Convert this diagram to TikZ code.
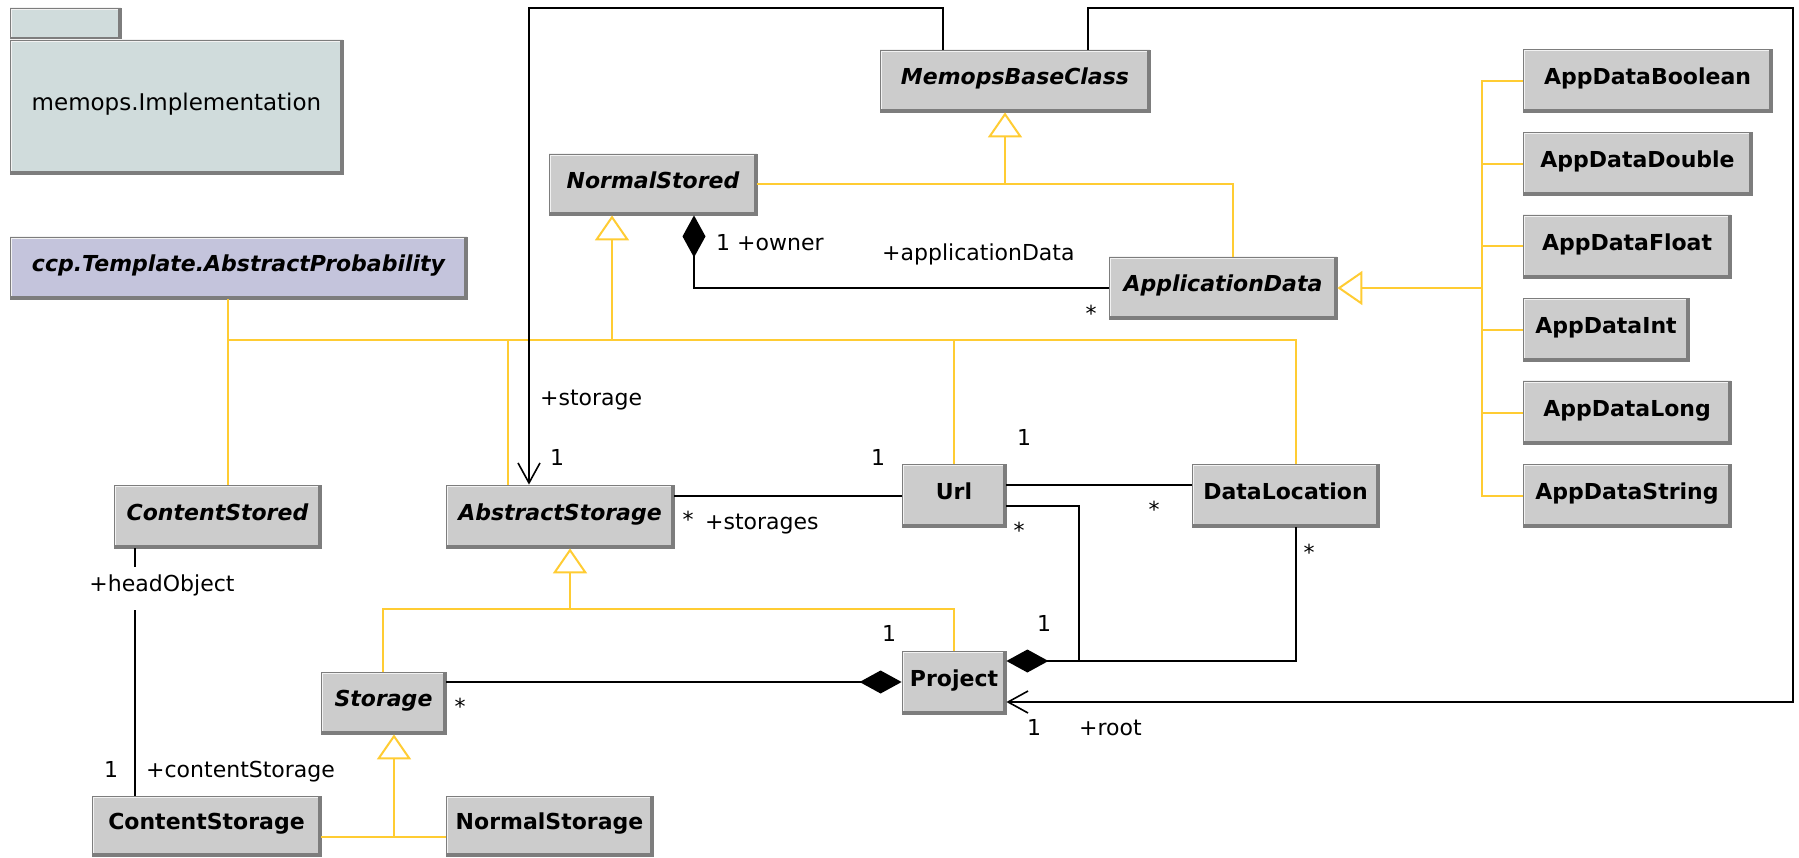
\documentclass[tikz,border=0pt]{standalone}
\usepackage{fontspec}
\setmainfont{DejaVu Sans}
\usetikzlibrary{arrows.meta}

\definecolor{boxgray}{RGB}{204,204,204}
\definecolor{bevlight}{RGB}{242,242,242}
\definecolor{bevdark}{RGB}{125,125,125}
\definecolor{pkgfill}{RGB}{208,220,220}
\definecolor{extfill}{RGB}{196,196,220}
\definecolor{genline}{RGB}{255,204,51}

\tikzset{
  bevel/.style={path picture={
      \draw[bevlight, line width=4pt]
        (path picture bounding box.south west) -- (path picture bounding box.north west)
        -- (path picture bounding box.north east);
      \draw[bevdark, line width=6pt]
        (path picture bounding box.north east) -- (path picture bounding box.south east)
        -- (path picture bounding box.south west);
  }},
  cls/.style={rectangle, bevel, fill=boxgray, draw=bevdark, line width=0.8pt,
    inner sep=0pt, text height=.73em, text depth=0pt,
    font=\fontsize{22}{26}\selectfont\bfseries},
  abscls/.style={cls, font=\fontsize{22}{26}\selectfont\bfseries\itshape},
  extcls/.style={abscls, fill=extfill},
  pkgbox/.style={cls, fill=pkgfill, font=\fontsize{23}{27}\selectfont},
  lbl/.style={inner sep=0pt, text height=.76em, text depth=0pt,
    font=\fontsize{22}{26}\selectfont},
  starlbl/.style={lbl, yshift=-5pt},
  assoc/.style={draw=black, line width=2pt},
  gen/.style={draw=genline, line width=2pt},
  gtri/.tip={Triangle[open, length=25pt, width=34pt, line width=2pt]},
  comp/.tip={Diamond[length=42pt, width=23pt]},
  nav/.tip={Straight Barb[length=20pt, width=22pt, line width=1.6pt]},
}

\begin{document}
\begin{tikzpicture}[x=1pt, y=-1pt]
\fill[white] (0,0) rectangle (1799,858);
\useasboundingbox (0,0) rectangle (1799,858);

% package
\node[pkgbox, minimum width=111, minimum height=32] (pkgtab) at (65.5,24) {};
\node[pkgbox, minimum width=333, minimum height=134] (pkg) at (176.5,107) {memops.Implementation};

% classes
\node[extcls, minimum width=457, minimum height=62] (ccp) at (238.5,268) {ccp.Template.AbstractProbability};
\node[abscls, minimum width=270, minimum height=62] (memops) at (1015,81) {MemopsBaseClass};
\node[abscls, minimum width=208, minimum height=61] (nstored) at (653,184.5) {NormalStored};
\node[abscls, minimum width=228, minimum height=62] (appd) at (1223,288) {ApplicationData};

\node[cls, minimum width=249, minimum height=63] (adbool) at (1647.5,81) {AppDataBoolean};
\node[cls, minimum width=229, minimum height=63] (addbl) at (1637.5,164) {AppDataDouble};
\node[cls, minimum width=208, minimum height=63] (adflt) at (1627,246.5) {AppDataFloat};
\node[cls, minimum width=166, minimum height=63] (adint) at (1606,330) {AppDataInt};
\node[cls, minimum width=208, minimum height=63] (adlng) at (1627,412.5) {AppDataLong};
\node[cls, minimum width=208, minimum height=63] (adstr) at (1627,495.5) {AppDataString};

\node[abscls, minimum width=207, minimum height=63] (cstored) at (217.5,516.5) {ContentStored};
\node[abscls, minimum width=228, minimum height=63] (astore) at (560,516.5) {AbstractStorage};
\node[cls, minimum width=104, minimum height=63] (url) at (954,495.5) {Url};
\node[cls, minimum width=187, minimum height=63] (dloc) at (1285.5,495.5) {DataLocation};
\node[abscls, minimum width=125, minimum height=62] (storage) at (383.5,703) {Storage};
\node[cls, minimum width=104, minimum height=63] (project) at (954,682.5) {Project};
\node[cls, minimum width=229, minimum height=60] (cstorage) at (206.5,826) {ContentStorage};
\node[cls, minimum width=207, minimum height=60] (nstorage) at (549.5,826) {NormalStorage};

% generalizations
\draw[gen, -{gtri}] (1005,184.5) -- (1005,0 |- memops.south);
\draw[gen] (nstored.east) -| (1233,0 |- appd.north);
\draw[gen] (228,0 |- ccp.south) -- (228,340) -| (1296,0 |- dloc.north);
\draw[gen] (228,340) -- (228,0 |- cstored.north);
\draw[gen] (508,340) -- (508,0 |- astore.north);
\draw[gen] (954,340) -- (url.north);
\draw[gen, -{gtri}] (612,340) -- (612,0 |- nstored.south);
\draw[gen, -{gtri}] (570,609) -- (570,0 |- astore.south);
\draw[gen] (383,0 |- storage.north) -- (383,609) -| (project.north);
\draw[gen, -{gtri}] (394,837) -- (394,0 |- storage.south);
\draw[gen] (cstorage.east |- 0,837) -- (nstorage.west |- 0,837);
\draw[gen, -{gtri}] (1482,288) -- (appd.east);
\draw[gen] (adbool.west) -- (1482,81) -- (1482,495.5) -- (adstr.west);
\foreach \n in {addbl, adflt, adint, adlng}
  \draw[gen] (\n.west) -- (1482,0 |- \n.west);

% associations
\draw[assoc, -{nav}] (943,0 |- memops.north) -- (943,8) -- (529,8) -- (529,0 |- astore.north);
\draw[assoc, -{nav}] (1088,0 |- memops.north) -- (1088,8) -- (1793,8) -- (1793,702) -- (project.east |- 0,702);
\draw[assoc, -{comp}] (appd.west) -- (694,288) -- (694,0 |- nstored.south);
\draw[assoc] (astore.east |- 0,496) -- (url.west |- 0,496);
\draw[assoc] (url.east |- 0,485) -- (dloc.west |- 0,485);
\draw[assoc] (url.east |- 0,506) -- (1079,506) -- (1079,661);
\draw[assoc, -{comp}] (1296,0 |- dloc.south) -- (1296,661) -- (project.east |- 0,661);
\draw[assoc, -{comp}] (storage.east |- 0,682) -- (project.west |- 0,682);
\draw[assoc] (135,0 |- cstored.south) -- (135,0 |- cstorage.north);

% role names and multiplicities
\node[lbl, anchor=west] (lowner) at (716,247) {1 +owner};
\node[lbl, anchor=west] (lappd) at (882,257) {+applicationData};
\node[starlbl] (sappd) at (1091,313) {*};
\node[lbl, anchor=west] (lstorage) at (540,402) {+storage};
\node[lbl] (m1) at (557,462) {1};
\node[starlbl] (s1) at (688,519) {*};
\node[lbl] (m2) at (878,462) {1};
\node[lbl, anchor=west] (lstorages) at (705,526) {+storages};
\node[lbl] (m3) at (1024,442) {1};
\node[starlbl] (s2) at (1154,509) {*};
\node[starlbl] (s3) at (1019,530) {*};
\node[starlbl] (s4) at (1309,552) {*};
\node[lbl] (m4) at (1044,628) {1};
\node[lbl] (m5) at (889,638) {1};
\node[starlbl] (s5) at (460,706) {*};
\node[lbl] (m6) at (1034,732) {1};
\node[lbl, anchor=west] (lroot) at (1079,732) {+root};
\node[lbl, fill=white, minimum height=43] (lhead) at (162,588) {+headObject};
\node[lbl] (m7) at (111,774) {1};
\node[lbl, anchor=west] (lcstorage) at (146,774) {+contentStorage};
\end{tikzpicture}
\end{document}
